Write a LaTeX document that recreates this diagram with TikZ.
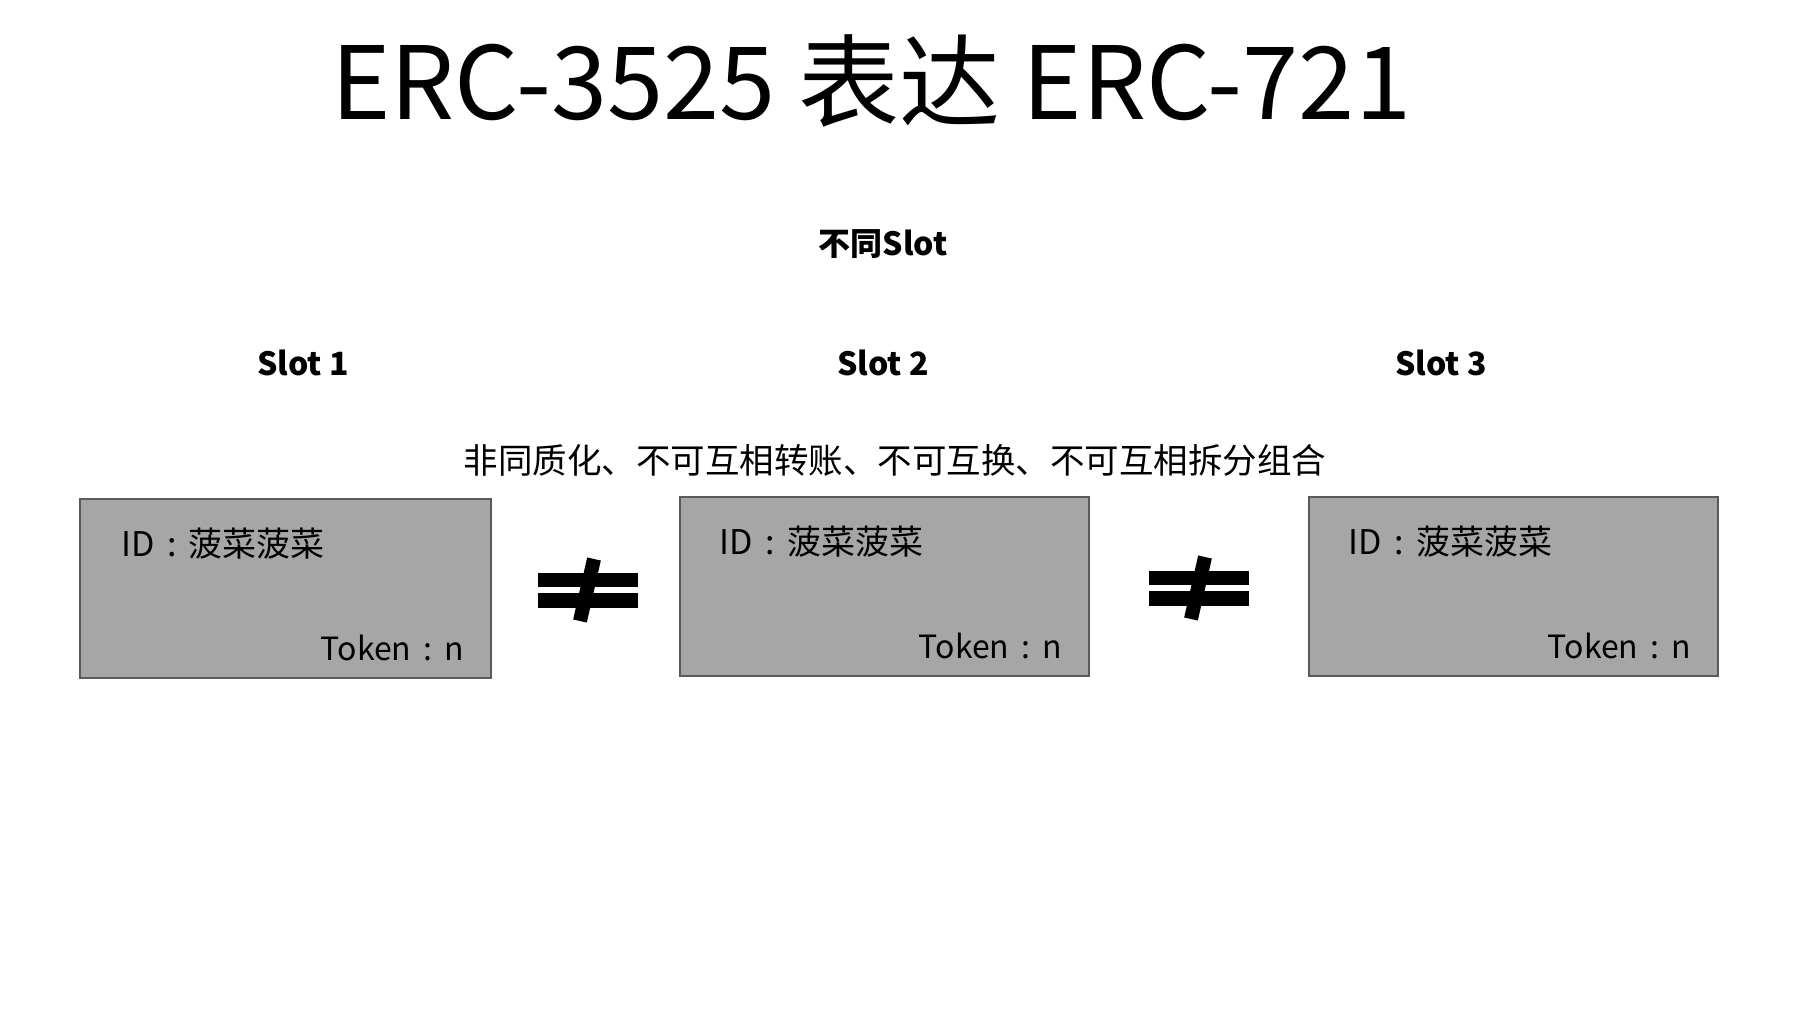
\documentclass[tikz,border=0pt]{standalone}
\usepackage{fontspec}
\setmainfont{Noto Sans CJK SC}
\newfontfamily\cjk{Noto Sans CJK SC}
\definecolor{boxfill}{HTML}{A6A6A6}
\definecolor{boxline}{HTML}{5A5A5A}
\tikzset{
  slotbox/.style={draw=boxline, fill=boxfill, line width=1.5pt},
  idtext/.style={anchor=base west, inner sep=0pt, font=\fontsize{34}{34}\selectfont},
  toktext/.style={anchor=base east, inner sep=0pt, font=\fontsize{32}{32}\selectfont},
  slotlabel/.style={anchor=base, inner sep=0pt, font=\bfseries\fontsize{32}{32}\selectfont},
  neqsign/.pic={
    \fill (-50,-17) rectangle (50,-3);
    \fill (-50,3) rectangle (50,18);
    \draw[line width=14pt] (6,-31) -- (-8,31);
  }
}
\begin{document}
\begin{tikzpicture}[x=1pt,y=-1pt]
\useasboundingbox[fill=white] (0,0) rectangle (1800,1022);
\node[anchor=base, inner sep=0pt, font=\fontsize{101}{101}\selectfont] (title) at (871,120) {ERC-3525 表达 ERC-721};
\node[slotlabel] (diff) at (883,255) {不同Slot};
\node[slotlabel] (s1) at (303,375) {Slot 1};
\node[slotlabel] (s2) at (883,375) {Slot 2};
\node[slotlabel] (s3) at (1441,375) {Slot 3};
\node[anchor=base, inner sep=0pt, font=\fontsize{34.5}{34.5}\selectfont] (desc) at (895,473) {非同质化、不可互相转账、不可互换、不可互相拆分组合};
\draw[slotbox] (80,499) rectangle (491,678);
\node[idtext] (id1) at (121,556) {ID\kern13pt:\kern12pt菠菜菠菜};
\node[toktext] (t1) at (464,660) {Token\kern12pt:\kern12pt n};
\draw[slotbox] (680,497) rectangle (1089,676);
\node[idtext] (id2) at (719,554) {ID\kern13pt:\kern12pt菠菜菠菜};
\node[toktext] (t2) at (1062,658) {Token\kern12pt:\kern12pt n};
\draw[slotbox] (1309,497) rectangle (1718,676);
\node[idtext] (id3) at (1348,554) {ID\kern13pt:\kern12pt菠菜菠菜};
\node[toktext] (t3) at (1691,658) {Token\kern12pt:\kern12pt n};
\pic at (588,590) {neqsign};
\pic at (1199,588) {neqsign};
\end{tikzpicture}
\end{document}
